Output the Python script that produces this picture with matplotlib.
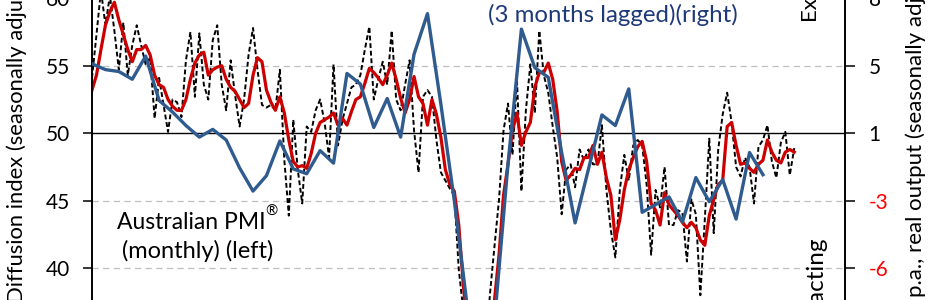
import numpy as np
import pandas as pd
import matplotlib
matplotlib.use("Agg")
import matplotlib.pyplot as plt

plt.rcParams['font.family'] = ['Lato', 'DejaVu Sans']

# ---------------- data ----------------
months = pd.date_range('2001-11-01', periods=158, freq='MS')

pmi_monthly = [54.1, 57.3, 60.6, 58.0, 60.2, 57.6, 54.7, 58.2, 54.3, 56.5,
               58.0, 56.5, 55.1, 55.6, 51.1, 54.1, 52.1, 50.1, 52.5, 52.3,
               51.2, 55.4, 57.5, 52.7, 57.4, 53.6, 52.5, 56.9, 58.0, 53.6,
               51.7, 55.4, 52.8, 50.5, 52.5, 55.8, 57.8, 54.7, 52.1, 51.9,
               52.1, 51.7, 54.7, 48.0, 43.9, 51.0, 47.3, 44.8, 50.5, 50.1,
               51.7, 52.5, 50.8, 48.2, 55.1, 49.1, 51.0, 52.2, 53.4, 53.6,
               54.3, 56.2, 57.9, 52.5, 54.0, 55.3, 53.6, 57.6, 52.5, 51.7,
               53.6, 55.4, 50.2, 47.1, 52.7, 53.2, 52.7, 49.5, 47.1, 46.5,
               45.9, 45.4, 39.9, 36.9, 33.2, 30.6, 30.2, 31.0, 33.9, 38.2,
               41.7, 45.1, 50.2, 52.2, 48.4, 54.0, 45.7, 51.7, 55.1, 51.5,
               57.6, 54.3, 53.0, 50.5, 48.2, 44.0, 47.3, 47.7, 46.0, 48.8,
               48.0, 48.8, 47.7, 47.7, 50.6, 45.8, 42.8, 40.8, 45.8, 48.4,
               46.5, 49.1, 49.5, 49.1, 46.2, 41.0, 45.8, 44.5, 47.5, 43.2,
               43.2, 44.3, 44.1, 40.5, 45.1, 44.0, 38.0, 43.6, 49.6, 42.6,
               48.8, 51.4, 53.0, 50.8, 47.5, 46.8, 48.2, 47.5, 44.8, 49.0,
               49.5, 50.6, 47.9, 46.7, 49.3, 50.1, 46.9, 48.9]

pmi_3mma = [53.2, 54.3, 56.2, 58.0, 59.0, 59.7, 58.4, 57.3, 56.2, 55.3,
            56.2, 56.2, 56.5, 55.8, 54.3, 53.6, 53.4, 52.5, 52.0, 51.7,
            51.7, 52.5, 54.0, 55.2, 55.8, 56.0, 54.3, 54.7, 54.9, 55.0,
            54.0, 53.4, 53.1, 52.5, 51.9, 52.2, 54.3, 55.6, 55.3, 53.2,
            52.3, 51.7, 52.7, 51.5, 49.5, 47.9, 47.5, 47.6, 47.4, 48.5,
            50.0, 50.8, 51.0, 51.2, 51.5, 50.6, 51.1, 50.6, 51.6, 52.5,
            52.7, 53.7, 54.8, 54.5, 54.1, 53.6, 54.3, 55.2, 54.0, 52.6,
            51.5, 52.5, 54.2, 52.7, 52.2, 50.6, 52.5, 51.4, 49.7, 47.3,
            46.2, 45.7, 43.2, 38.8, 35.4, 32.5, 30.6, 30.2, 31.7, 34.3,
            37.7, 41.0, 45.4, 47.7, 50.2, 51.5, 49.1, 50.1, 50.8, 53.4,
            54.5, 54.5, 55.2, 54.0, 51.6, 47.9, 46.5, 46.9, 47.4, 47.3,
            48.2, 48.2, 49.1, 47.7, 48.6, 46.7, 45.4, 42.1, 43.6, 45.8,
            47.3, 48.2, 49.0, 49.4, 47.9, 44.8, 44.3, 43.2, 45.6, 44.7,
            44.3, 43.9, 43.4, 43.0, 43.4, 43.0, 42.1, 41.7, 43.9, 45.1,
            46.2, 46.5, 50.5, 50.8, 49.1, 47.7, 47.8, 47.4, 47.1, 47.7,
            48.0, 49.5, 48.6, 48.0, 47.8, 48.6, 48.8, 48.6]

# ABS real output, % change p.a., quarterly (3 months lagged), right axis
abs_output = [4.6, 4.3, 4.2, 3.8, 5.0, 2.7, 2.1, 1.4, 0.8, 1.2,
              0.65, -0.8, -2.0, -1.2, 0.6, -0.85, -1.1, 0.1, -0.55, 4.1,
              3.55, 1.3, 2.8, 0.8, 5.1, 7.2, 2.5, -2.5, -8.2, -13.9,
              -8.7, -0.6, 6.4, 4.4, 3.9, 0.0, -3.65, -0.85, 1.95, 1.4,
              3.3, -3.1, -2.7, -2.3, -3.6, -1.3, -2.55, -1.4, -3.45, 0.0,
              -1.15]
abs_months = months[::3][:len(abs_output)]

left_ticks = [40, 45, 50, 55, 60]
right_ticks = [-6, -2.5, 1, 4.5, 8]
right_ticklabels = ['-6', '-3', '1', '5', '8']

# ---------------- figure ----------------
W, H = 930, 300
fig = plt.figure(figsize=(W / 100, H / 100), dpi=100)

ppu = 13.5            # pixels per index point
v_top_fig = 59.87     # value at the top edge of the figure
y_lo, y_hi = 35.0, 62.0
ax_bottom_px = (v_top_fig - y_lo) * ppu
ax_top_px = (v_top_fig - y_hi) * ppu
x_left_px, x_right_px = 92, 845
ax = fig.add_axes([x_left_px / W, 1 - ax_bottom_px / H,
                   (x_right_px - x_left_px) / W, (ax_bottom_px - ax_top_px) / H])

xpos = {d: i for i, d in enumerate(months)}
x_m = np.arange(len(months))
x_q = np.array([xpos[d] for d in abs_months])

ax.set_xlim(0, (x_right_px - x_left_px) / 4.473)
ax.set_ylim(y_lo, y_hi)

for g in [40, 45, 55, 60]:
    ax.axhline(g, color='#BFBFBF', lw=0.9, ls=(0, (5, 3.5)), zorder=0)
ax.axhline(50, color='black', lw=1.0, zorder=1)

ax.plot(x_m, pmi_monthly, color='black', lw=1.4, ls=(0, (2.5, 1.4)), zorder=2)
ax.plot(x_m, pmi_3mma, color='#CC0000', lw=2.3, zorder=3)

ax2 = ax.twinx()
ax2.set_ylim(1 + 0.7 * (y_lo - 50), 1 + 0.7 * (y_hi - 50))
ax2.plot(x_q, abs_output, color='#2F5B8F', lw=2.4, zorder=4)

for a in (ax, ax2):
    a.spines['top'].set_visible(False)
    a.spines['bottom'].set_visible(False)
    a.spines['left'].set_linewidth(1.2)
    a.spines['right'].set_linewidth(1.2)
ax.set_xticks([])
ax2.set_xticks([])

ax.set_yticks(left_ticks)
ax.set_yticklabels([str(t) for t in left_ticks])
ax.tick_params(axis='y', direction='out', length=6.5, width=1.1, pad=9,
               labelsize=15, colors='black')
ax2.set_yticks(right_ticks)
ax2.set_yticklabels(right_ticklabels)
ax2.tick_params(axis='y', direction='out', length=7, width=1.1, pad=10,
                labelsize=15)
for lbl, val in zip(ax2.get_yticklabels(), right_ticks):
    lbl.set_color('#FF0000' if val < 0 else 'black')


def fx(px):
    return px / W


def fy(py):
    return 1 - py / H


# axis titles (rotated)
fig.text(fx(17), fy(303), 'Diffusion index (seasonally adjusted)', rotation=90,
         ha='center', va='bottom', fontsize=15.8)
fig.text(fx(916), fy(297), 'p.a., real output (seasonally adjusted)', rotation=90,
         ha='center', va='bottom', fontsize=16)

# expanding / contracting
fig.text(fx(809), fy(20), 'Expanding', rotation=90, ha='center', va='bottom',
         fontsize=16)
fig.text(fx(816), fy(237), 'Contracting', rotation=90, ha='center', va='top',
         fontsize=17.5)

# series annotations
t1 = fig.text(fx(117), fy(229), 'Australian PMI', ha='left', va='baseline',
              fontsize=16.5)
fig.text(fx(198), fy(258), '(monthly) (left)', ha='center', va='baseline',
         fontsize=17)
fig.canvas.draw()
bb = t1.get_window_extent(renderer=fig.canvas.get_renderer())
fig.text(bb.x1 / W, fy(229) + 0.045, '®', ha='left', va='baseline',
         fontsize=10.5)

fig.text(fx(488), fy(22), '(3 months lagged)(right)', ha='left', va='baseline',
         fontsize=17.3, color='#1F3A7A')

fig.savefig('out.png', dpi=100)
